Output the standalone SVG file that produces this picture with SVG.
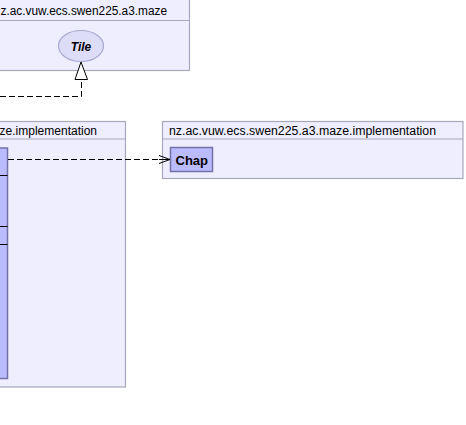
<svg xmlns="http://www.w3.org/2000/svg" width="466" height="425" viewBox="0 0 466 425">
<defs>
<style>
.pkg{fill:#EEEEFF;stroke:#A8A8BC;stroke-width:1.2}
.cls{fill:#BBBBFF;stroke:#7272A8;stroke-width:1.5}
.t{font-family:"Liberation Sans",Arial,sans-serif;font-size:12px;fill:#000}
.b{font-weight:bold;font-size:13px}
.dash{fill:none;stroke:#000;stroke-width:1;stroke-dasharray:6,3}
</style>
<marker id="open" markerWidth="12" markerHeight="10" refX="11" refY="5" orient="auto" markerUnits="userSpaceOnUse">
<path d="M0,1 L11,5 L0,9 M0,5 L11,5" fill="none" stroke="#000" stroke-width="1"/>
</marker>
</defs>
<g id="pkg-maze">
<rect class="pkg" x="-10" y="-1" width="199.5" height="71.5"/>
<line x1="-10" y1="20.5" x2="189.5" y2="20.5" stroke="#A8A8BC" stroke-width="1.2"/>
<text class="t" x="0.5" y="15" textLength="166.5" lengthAdjust="spacingAndGlyphs">z.ac.vuw.ecs.swen225.a3.maze</text>
</g>
<g id="Tile">
<ellipse cx="81" cy="46" rx="22.5" ry="15.5" fill="#DDDDF8" stroke="#A8A8D0" stroke-width="1.2"/>
<text class="t" x="81" y="50.5" text-anchor="middle" font-weight="bold" font-style="italic">Tile</text>
</g>
<g id="pkg-impl-left">
<rect class="pkg" x="-10" y="121.5" width="135.5" height="265.5"/>
<line x1="-10" y1="139" x2="125.5" y2="139" stroke="#A8A8BC" stroke-width="1.2"/>
<text class="t" x="97" y="134.5" text-anchor="end">ze.implementation</text>
</g>
<g id="class-left">
<rect class="cls" x="-10" y="148" width="17.5" height="230.5"/>
<line x1="-10" y1="175.5" x2="7.5" y2="175.5" stroke="#000" stroke-width="1"/>
<line x1="-10" y1="226.5" x2="7.5" y2="226.5" stroke="#000" stroke-width="1"/>
<line x1="-10" y1="244.5" x2="7.5" y2="244.5" stroke="#000" stroke-width="1"/>
</g>
<g id="pkg-impl-right">
<rect class="pkg" x="162.5" y="121.5" width="300.5" height="57"/>
<line x1="162.5" y1="139" x2="463" y2="139" stroke="#A8A8BC" stroke-width="1.2"/>
<text class="t" x="169" y="134.5" textLength="267" lengthAdjust="spacingAndGlyphs">nz.ac.vuw.ecs.swen225.a3.maze.implementation</text>
</g>
<g id="Chap">
<rect class="cls" x="170.5" y="147.5" width="42" height="24"/>
<text class="t b" x="175.5" y="165">Chap</text>
</g>
<g id="connectors">
<path class="dash" d="M8,159.5 L170,159.5" marker-end="url(#open)"/>
<path class="dash" d="M0,96.5 L81.5,96.5 L81.5,79"/>
<polygon points="81,62 75,79.5 87.5,79.5" fill="#fff" stroke="#000" stroke-width="1"/>
</g>
</svg>
